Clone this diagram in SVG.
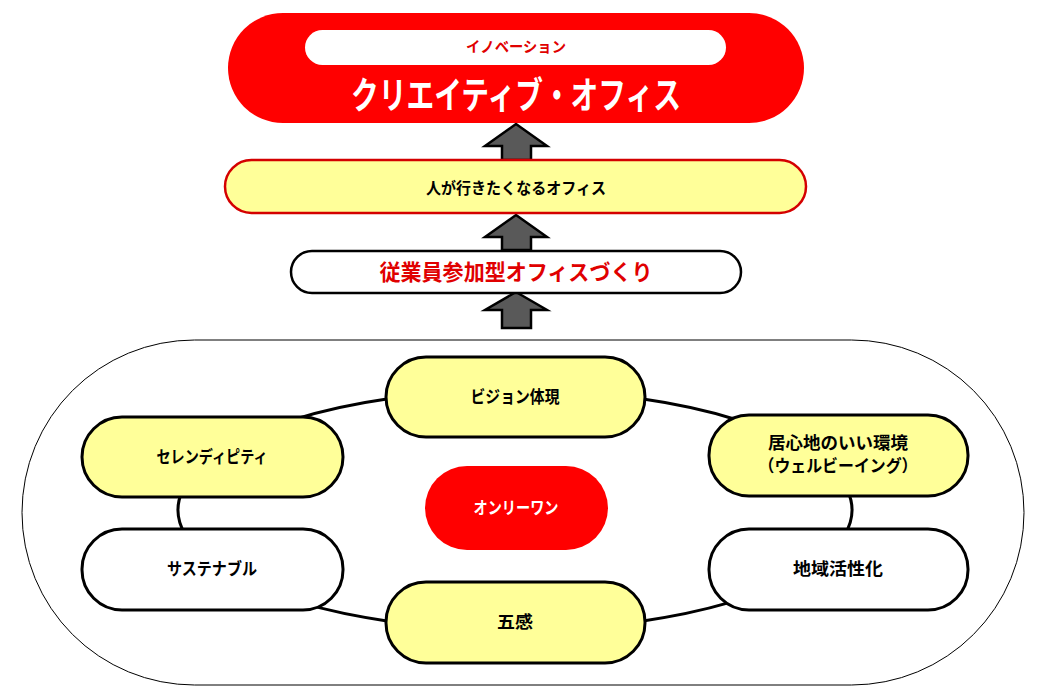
<svg xmlns="http://www.w3.org/2000/svg" width="1045" height="696" viewBox="0 0 1045 696">
<style>
text{font-family:"Noto Sans CJK JP","Noto Sans",sans-serif;font-weight:bold;text-anchor:middle}
.lbl{font-size:17px;fill:#000}
.pill{stroke:#000;stroke-width:3}
.yel{fill:#FFFF99}
.wht{fill:#fff}
.arrow{fill:#595959;stroke:#000;stroke-width:2.5;stroke-linejoin:miter}
.edge{fill:none;stroke:#000;stroke-width:3}
</style>
<rect x="0" y="0" width="1045" height="696" fill="#fff"/>

<g id="outer">
<rect x="22" y="340" width="1002" height="345" rx="172.5" ry="172.5" fill="#fff" stroke="#000" stroke-width="1"/>
</g>

<g id="arrows">
<path class="arrow" d="M516 124 L547 146 L531 146 L531 160 L502 160 L502 146 L485 146 Z"/>
<path class="arrow" d="M516 215 L547 237 L531 237 L531 250 L502 250 L502 237 L485 237 Z"/>
<path class="arrow" d="M516 292 L547 310 L531 310 L531 328 L502 328 L502 310 L485 310 Z"/>
</g>

<g id="creative-office">
<rect x="228" y="13" width="576" height="110" rx="55" ry="55" fill="#FF0000"/>
<rect x="305" y="30" width="421" height="35" rx="17.5" ry="17.5" fill="#fff"/>
<text x="516" y="52" font-size="15" fill="#E00000" textLength="100" lengthAdjust="spacingAndGlyphs">イノベーション</text>
<text x="516" y="109" font-size="37" fill="#fff" textLength="330" lengthAdjust="spacingAndGlyphs">クリエイティブ・オフィス</text>
</g>

<g id="office-people">
<rect x="225" y="160" width="581" height="53" rx="26.5" ry="26.5" fill="#FFFF99" stroke="#D40000" stroke-width="2.5"/>
<text x="516" y="194" font-size="16" fill="#000" textLength="180" lengthAdjust="spacingAndGlyphs">人が行きたくなるオフィス</text>
</g>

<g id="participation">
<rect x="291" y="251" width="450" height="42" rx="21" ry="21" fill="#fff" stroke="#000" stroke-width="2.5"/>
<text x="516" y="280" font-size="22" fill="#E00000" textLength="273" lengthAdjust="spacingAndGlyphs">従業員参加型オフィスづくり</text>
</g>

<g id="connectors">
<path class="edge" d="M390 398.6 A337 120 0 0 0 290 420.7"/>
<path class="edge" d="M182.7 490 A337 120 0 0 0 185.4 535"/>
<path class="edge" d="M300 602.4 A337 120 0 0 0 390 621.4"/>
<path class="edge" d="M640 398.6 A337 120 0 0 1 740 420.7"/>
<path class="edge" d="M847.3 490 A337 120 0 0 1 844.6 535"/>
<path class="edge" d="M730 602.4 A337 120 0 0 1 640 621.4"/>
</g>

<g id="vision">
<rect class="pill yel" x="386" y="357" width="259" height="80" rx="40" ry="40"/>
<text class="lbl" x="515" y="403" textLength="89" lengthAdjust="spacingAndGlyphs">ビジョン体現</text>
</g>
<g id="serendipity">
<rect class="pill yel" x="82" y="417" width="261" height="80" rx="40" ry="40"/>
<text class="lbl" x="212" y="463" textLength="111" lengthAdjust="spacingAndGlyphs">セレンディピティ</text>
</g>
<g id="wellbeing">
<rect class="pill yel" x="709" y="415" width="259" height="81" rx="40" ry="40"/>
<text class="lbl" x="838" y="449" textLength="140" lengthAdjust="spacingAndGlyphs">居心地のいい環境</text>
<text class="lbl" x="838" y="472" textLength="159" lengthAdjust="spacingAndGlyphs">（ウェルビーイング）</text>
</g>
<g id="sustainable">
<rect class="pill wht" x="82" y="529" width="261" height="81" rx="40" ry="40"/>
<text class="lbl" x="212" y="575" textLength="90" lengthAdjust="spacingAndGlyphs">サステナブル</text>
</g>
<g id="regional">
<rect class="pill wht" x="709" y="529" width="259" height="81" rx="40" ry="40"/>
<text class="lbl" x="838" y="575" textLength="90" lengthAdjust="spacingAndGlyphs">地域活性化</text>
</g>
<g id="five-senses">
<rect class="pill yel" x="386" y="582" width="259" height="81" rx="40" ry="40"/>
<text class="lbl" x="515" y="628" textLength="36" lengthAdjust="spacingAndGlyphs">五感</text>
</g>
<g id="only-one">
<rect x="425" y="466" width="183" height="84" rx="42" ry="42" fill="#FF0000"/>
<text x="516" y="514" font-size="17" fill="#fff" textLength="85" lengthAdjust="spacingAndGlyphs">オンリーワン</text>
</g>
</svg>
